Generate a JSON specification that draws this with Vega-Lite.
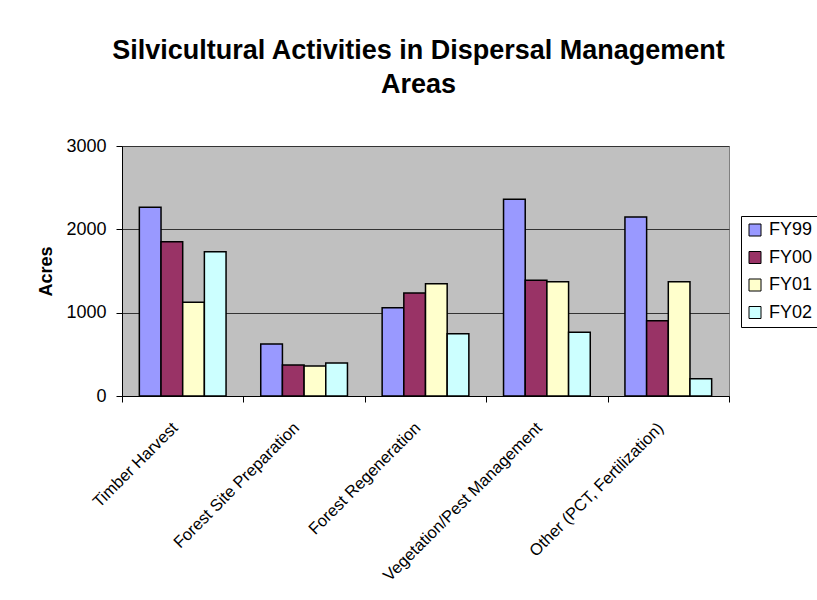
{
  "$schema": "https://vega.github.io/schema/vega-lite/v6.json",
  "width": 607,
  "height": 250,
  "autosize": {"type": "none"},
  "padding": {"left": 122, "top": 146, "right": 88, "bottom": 204},
  "background": "white",
  "title": {
    "text": ["Silvicultural Activities in Dispersal Management", "Areas"],
    "font": "Liberation Sans",
    "fontSize": 27,
    "fontWeight": "bold",
    "color": "black",
    "lineHeight": 34,
    "offset": 38,
    "dx": -7,
    "anchor": "middle"
  },
  "data": {
    "values": [
      {"activity": "Timber Harvest", "year": "FY99", "acres": 2265},
      {"activity": "Timber Harvest", "year": "FY00", "acres": 1852},
      {"activity": "Timber Harvest", "year": "FY01", "acres": 1124},
      {"activity": "Timber Harvest", "year": "FY02", "acres": 1732},
      {"activity": "Forest Site Preparation", "year": "FY99", "acres": 624},
      {"activity": "Forest Site Preparation", "year": "FY00", "acres": 372},
      {"activity": "Forest Site Preparation", "year": "FY01", "acres": 360},
      {"activity": "Forest Site Preparation", "year": "FY02", "acres": 396},
      {"activity": "Forest Regeneration", "year": "FY99", "acres": 1060},
      {"activity": "Forest Regeneration", "year": "FY00", "acres": 1236},
      {"activity": "Forest Regeneration", "year": "FY01", "acres": 1348},
      {"activity": "Forest Regeneration", "year": "FY02", "acres": 748},
      {"activity": "Vegetation/Pest Management", "year": "FY99", "acres": 2360},
      {"activity": "Vegetation/Pest Management", "year": "FY00", "acres": 1388},
      {"activity": "Vegetation/Pest Management", "year": "FY01", "acres": 1372},
      {"activity": "Vegetation/Pest Management", "year": "FY02", "acres": 764},
      {"activity": "Other (PCT, Fertilization)", "year": "FY99", "acres": 2148},
      {"activity": "Other (PCT, Fertilization)", "year": "FY00", "acres": 904},
      {"activity": "Other (PCT, Fertilization)", "year": "FY01", "acres": 1372},
      {"activity": "Other (PCT, Fertilization)", "year": "FY02", "acres": 208}
    ]
  },
  "mark": {"type": "bar", "stroke": "black", "strokeWidth": 1.5},
  "encoding": {
    "x": {
      "field": "activity",
      "type": "nominal",
      "sort": null,
      "scale": {"paddingInner": 0, "paddingOuter": 0},
      "axis": {
        "title": null,
        "tickBand": "extent",
        "labelAngle": -45,
        "labelAlign": "right",
        "labelBaseline": "middle",
        "labelFontSize": 16.5,
        "labelPadding": 23,
        "labelOffset": -8,
        "labelLimit": 0,
        "labelColor": "black",
        "domainColor": "black",
        "tickColor": "black",
        "tickSize": 6,
        "grid": false
      }
    },
    "xOffset": {
      "field": "year",
      "type": "nominal",
      "sort": ["FY99", "FY00", "FY01", "FY02"],
      "scale": {"paddingInner": 0, "paddingOuter": 0.8}
    },
    "y": {
      "field": "acres",
      "type": "quantitative",
      "scale": {"domain": [0, 3000], "nice": false},
      "axis": {
        "title": "Acres",
        "titleFontSize": 18,
        "titleFontWeight": "bold",
        "titleColor": "black",
        "titlePadding": 10,
        "values": [0, 1000, 2000, 3000],
        "format": "d",
        "labelFontSize": 18,
        "labelColor": "black",
        "labelPadding": 10,
        "domainColor": "black",
        "tickColor": "black",
        "tickSize": 6,
        "grid": true,
        "gridColor": "#333333",
        "gridOpacity": 1
      }
    },
    "color": {
      "field": "year",
      "type": "nominal",
      "sort": ["FY99", "FY00", "FY01", "FY02"],
      "scale": {
        "domain": ["FY99", "FY00", "FY01", "FY02"],
        "range": ["#9999FF", "#993366", "#FFFFCC", "#CCFFFF"]
      },
      "legend": {
        "title": null,
        "orient": "none",
        "legendX": 619,
        "legendY": 70,
        "strokeColor": "black",
        "fillColor": "white",
        "padding": 5,
        "symbolType": "square",
        "symbolSize": 144,
        "symbolStrokeColor": "black",
        "symbolStrokeWidth": 1,
        "labelFontSize": 18,
        "labelColor": "black",
        "labelOffset": 5,
        "rowPadding": 9.5
      }
    }
  },
  "config": {
    "font": "Liberation Sans",
    "view": {"fill": "#C0C0C0", "stroke": "#808080", "strokeWidth": 1},
    "axis": {"domainWidth": 1, "tickWidth": 1, "gridWidth": 1}
  }
}
